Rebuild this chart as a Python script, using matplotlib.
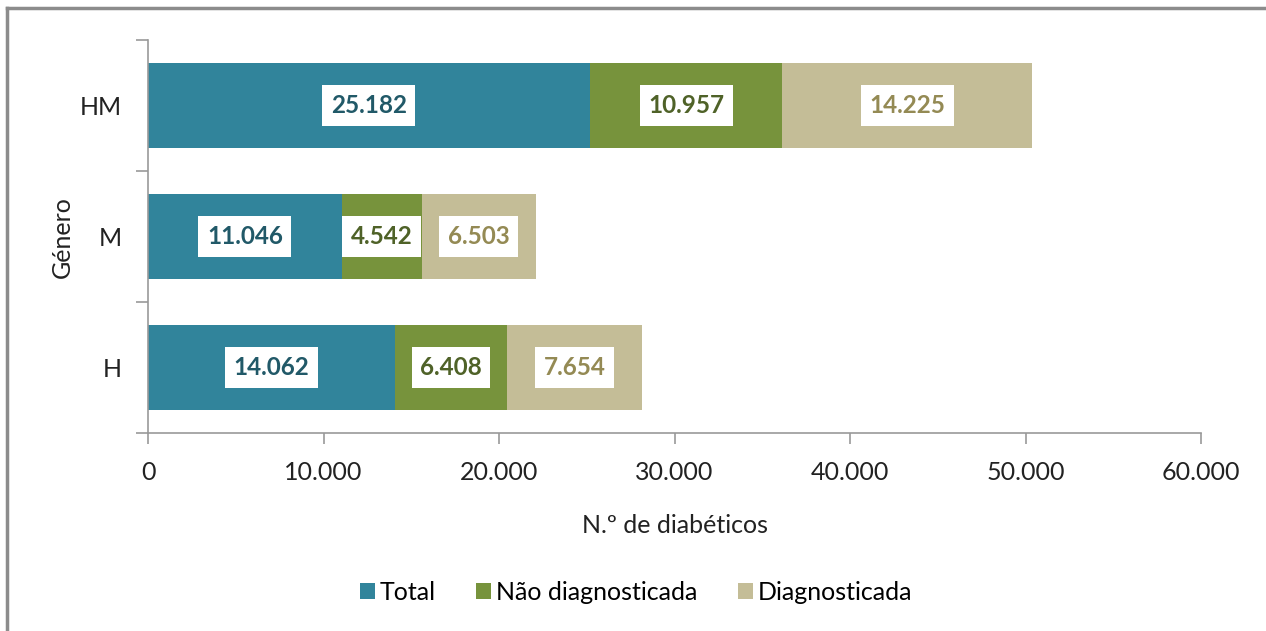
import numpy as np
import matplotlib
matplotlib.use('Agg')
import matplotlib.pyplot as plt
from matplotlib.lines import Line2D

plt.rcParams['font.family'] = ['Lato', 'DejaVu Sans']

# data
categories = ['H', 'M', 'HM']
total = [14062, 11046, 25182]
nao_diag = [6408, 4542, 10957]
diag = [7654, 6503, 14225]
series_names = ['Total', 'Não diagnosticada', 'Diagnosticada']
xticks = [0, 10000, 20000, 30000, 40000, 50000, 60000]

bar_colors = ['#31849B', '#77933C', '#C4BD97']
text_colors = ['#215968', '#4F6228', '#948A54']

def fmt(v):
    return '{:,}'.format(int(v)).replace(',', '.')

fig = plt.figure(figsize=(12.66, 6.31), dpi=100)
ax = fig.add_axes([148/1266, 1-433/631, (1201-148)/1266, (433-40)/631])

y = np.arange(len(categories))
left = np.zeros(len(categories))
for vals, name, c, tc in zip([total, nao_diag, diag], series_names, bar_colors, text_colors):
    vals = np.array(vals)
    ax.barh(y, vals, left=left, height=0.65, color=c, label=name)
    for yi, l, v in zip(y, left, vals):
        ax.text(l + v/2, yi, fmt(v), ha='center', va='center', fontsize=17.5,
                fontweight='bold', color=tc,
                bbox=dict(boxstyle='square,pad=0.35', fc='white', ec='none'))
    left = left + vals

ax.set_xlim(0, 60000)
ax.set_ylim(-0.5, 2.5)
ax.set_xticks(xticks)
ax.set_xticklabels([fmt(t) for t in xticks])
ax.set_yticks(y)
ax.set_yticklabels(categories)
ax.set_yticks([-0.5, 0.5, 1.5, 2.5], minor=True)
ax.tick_params(axis='y', which='major', length=0, pad=19, labelsize=18, colors='#222222')
ax.tick_params(axis='y', which='minor', length=9, color='#999999', width=1.2)
ax.tick_params(axis='x', length=8, color='#999999', width=1.2, pad=12, labelsize=18, labelcolor='#222222')

for s in ['top', 'right']:
    ax.spines[s].set_visible(False)
for s in ['left', 'bottom']:
    ax.spines[s].set_color('#999999')
    ax.spines[s].set_linewidth(1.2)

ax.set_xlabel('N.º de diabéticos', fontsize=18, labelpad=22, color='#222222')
fig.text(62/1266, 1-237/631, 'Género', rotation=90, ha='center', va='center', fontsize=18, color='#222222')

ax.legend(loc='center', bbox_to_anchor=(636/1266, 1-592/631), bbox_transform=fig.transFigure,
          ncol=3, frameon=False, fontsize=18, handlelength=0.6, handleheight=0.6,
          handletextpad=0.2, columnspacing=1.6)

# outer frame
fig.add_artist(Line2D([7/1266, 7/1266], [0, 1-8/631], color='#8c8c8c', lw=2.5, transform=fig.transFigure))
fig.add_artist(Line2D([7/1266, 1], [1-8/631, 1-8/631], color='#8c8c8c', lw=2.5, transform=fig.transFigure))

fig.savefig('out.png', dpi=100)
